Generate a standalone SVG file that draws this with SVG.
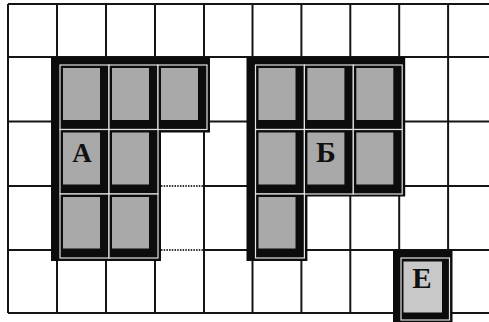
<svg xmlns="http://www.w3.org/2000/svg" width="489" height="322" viewBox="0 0 489 322">
<style>
.g{stroke:#151515;stroke-width:2;fill:none}
.gd{stroke:#333;stroke-width:2;fill:none;stroke-dasharray:1.5 1.2}
.blk{fill:#0c0c0c}
.tile{fill:#0c0c0c;stroke:#e2e2e2;stroke-width:1.2}
.gray{fill:#a9a9a9}
.grayE{fill:#c8c8c8}
.lbl{font-family:"Liberation Serif","Times New Roman",serif;font-weight:bold;fill:#111;text-anchor:middle}
</style>
<rect width="489" height="322" fill="#fff"/>
<g id="grid">
<path class="g" d="M8,4H489M8,57H489M8,121.5H489M8,313H489M8,186H161M204,186H489M8,250H161M204,250H489"/>
<path class="gd" d="M161,186H204M161,250H204"/>
<path class="g" d="M8,4V313M57,4V313M106,4V313M155,4V313M204,4V313M252.5,4V313M301.4,4V313M350.3,4V313M399.2,4V313M448.1,4V313"/>
</g>
<g id="figure-A">
<path class="blk" d="M51,57H210V132.5H161V261H51Z"/>
<rect class="tile" x="60" y="65" width="49" height="64.5"/>
<rect class="tile" x="109" y="65" width="49" height="64.5"/>
<rect class="tile" x="158" y="65" width="49" height="64.5"/>
<rect class="tile" x="60" y="129.5" width="49" height="64.5"/>
<rect class="tile" x="109" y="129.5" width="49" height="64.5"/>
<rect class="tile" x="60" y="194" width="49" height="64"/>
<rect class="tile" x="109" y="194" width="49" height="64"/>
<rect class="gray" x="63" y="68" width="37" height="52"/>
<rect class="gray" x="112" y="68" width="37" height="52"/>
<rect class="gray" x="161" y="68" width="37" height="52"/>
<rect class="gray" x="63" y="132.5" width="37" height="52"/>
<rect class="gray" x="112" y="132.5" width="37" height="52"/>
<rect class="gray" x="63" y="197" width="37" height="51.5"/>
<rect class="gray" x="112" y="197" width="37" height="51.5"/>
<text class="lbl" x="82" y="161.5" font-size="27">А</text>
</g>
<g id="figure-B">
<path class="blk" d="M246.5,57H405.2V196.5H307.4V261H246.5Z"/>
<rect class="tile" x="255.5" y="65" width="48.9" height="64.5"/>
<rect class="tile" x="304.4" y="65" width="48.9" height="64.5"/>
<rect class="tile" x="353.3" y="65" width="48.9" height="64.5"/>
<rect class="tile" x="255.5" y="129.5" width="48.9" height="64.5"/>
<rect class="tile" x="304.4" y="129.5" width="48.9" height="64.5"/>
<rect class="tile" x="353.3" y="129.5" width="48.9" height="64.5"/>
<rect class="tile" x="255.5" y="194" width="48.9" height="64"/>
<rect class="gray" x="258.5" y="68" width="37" height="52"/>
<rect class="gray" x="307.4" y="68" width="37" height="52"/>
<rect class="gray" x="356.3" y="68" width="37" height="52"/>
<rect class="gray" x="258.5" y="132.5" width="37" height="52"/>
<rect class="gray" x="307.4" y="132.5" width="37" height="52"/>
<rect class="gray" x="356.3" y="132.5" width="37" height="52"/>
<rect class="gray" x="258.5" y="197" width="37" height="51.5"/>
<text class="lbl" x="326" y="162" font-size="30">Б</text>
</g>
<g id="figure-E">
<path class="blk" d="M393,250H452.5V325H393Z"/>
<rect class="tile" x="401" y="258" width="48.5" height="62"/>
<rect class="grayE" x="403.5" y="261.5" width="38.5" height="51"/>
<text class="lbl" x="422" y="288" font-size="29">Е</text>
</g>
</svg>
